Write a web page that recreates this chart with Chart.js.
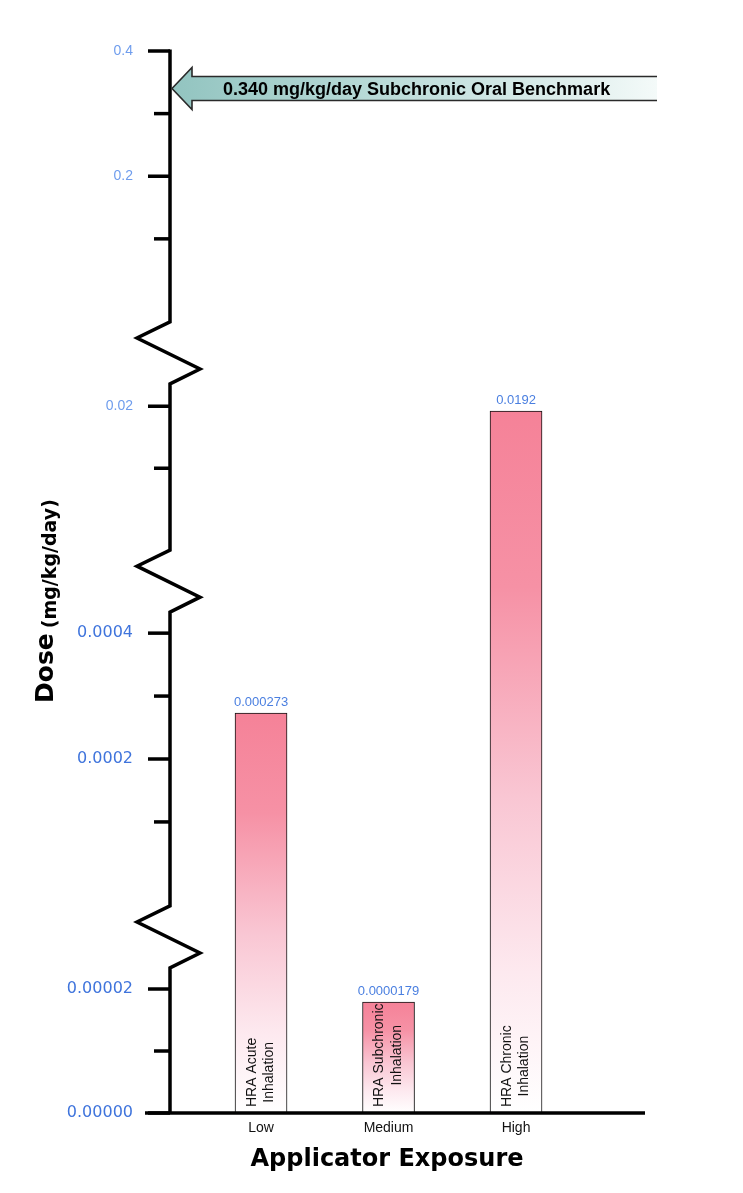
<!DOCTYPE html>
<html lang="en">
<head>
<meta charset="UTF-8">
<title>Applicator Exposure</title>
<style>
    html, body { margin: 0; padding: 0; background: #fff; }
    canvas { display: block; }
</style>
</head>
<body>
<canvas id="myChart" width="743" height="1193"></canvas>

<script src="https://cdn.jsdelivr.net/npm/chart.js"></script>
<script>
    var categories = ['Low', 'Medium', 'High'];
    var barNames = [['HRA Acute', 'Inhalation'], ['HRA Subchronic', 'Inhalation'], ['HRA Chronic', 'Inhalation']];
    var doses = [0.000273, 0.0000179, 0.0192];
    var doseLabels = ['0.000273', '0.0000179', '0.0192'];
    var tickValues = [0, 0.00001, 0.00002, 0.0001, 0.0002, 0.0003, 0.0004, 0.01, 0.02, 0.1, 0.2, 0.3, 0.4];
    var tickLabels = ['0.00000', '', '0.00002', '', '0.0002', '', '0.0004', '', '0.02', '', '0.2', '', '0.4'];
    var benchmark = 0.34;
    var benchmarkText = '0.340 mg/kg/day Subchronic Oral Benchmark';

    // broken axis: each piece puts a value range on a stretch of the axis (1 unit = one minor tick)
    var pieces = [
        {from: 0, to: 0.00002, start: 0, end: 2},
        {from: 0.0002, to: 0.0004, start: 5.71, end: 7.74},
        {from: 0.01, to: 0.02, start: 10.4, end: 11.4},
        {from: 0.2, to: 0.4, start: 15.11, end: 17.13}
    ];
    var breaks = [2.34, 8.08, 11.76]; // bottom of each zigzag, in axis units

    function pos(v) {
        for (var i = 0; i < pieces.length; i++) {
            var p = pieces[i];
            if (v <= p.to || i == pieces.length - 1) {
                return p.start + (v - p.from) / (p.to - p.from) * (p.end - p.start);
            }
        }
    }

    function barFill(c) {
        var chart = c.chart;
        if (!chart.chartArea || c.type !== 'data') return '#f5899c';
        var y = chart.scales.y;
        var top = y.getPixelForValue(c.raw.y);
        var bottom = y.getPixelForValue(0);
        var g = chart.ctx.createLinearGradient(0, top, 0, bottom);
        g.addColorStop(0, 'rgb(245,130,152)');
        g.addColorStop(0.25, 'rgb(246,145,165)');
        g.addColorStop(0.55, 'rgb(249,198,211)');
        g.addColorStop(0.8, 'rgb(253,233,239)');
        g.addColorStop(1, 'rgb(255,255,255)');
        return g;
    }

    var decor = {
        id: 'decor',
        afterDatasetsDraw: function(chart) {
            var ctx = chart.ctx;
            var y = chart.scales.y;
            var ax = chart.chartArea.left;
            var bars = chart.getDatasetMeta(0).data;

            ctx.save();

            /* ------- text inside the bars and values above ------- */
            bars.forEach(function(bar, i) {
                ctx.save();
                ctx.translate(bar.x, bar.base);
                ctx.rotate(-Math.PI / 2);
                ctx.fillStyle = '#111';
                ctx.font = '14px "Liberation Sans", Arial, sans-serif';
                ctx.textAlign = 'center';
                ctx.textBaseline = 'middle';
                var w = Math.max.apply(null, barNames[i].map(function(t) { return ctx.measureText(t).width; }));
                ctx.fillText(barNames[i][0], 6 + w / 2, -9);
                ctx.fillText(barNames[i][1], 6 + w / 2, 8.5);
                ctx.restore();

                ctx.fillStyle = '#4a7fe0';
                ctx.font = '13px "Liberation Sans", Arial, sans-serif';
                ctx.textAlign = 'center';
                ctx.textBaseline = 'alphabetic';
                ctx.fillText(doseLabels[i], bar.x, bar.y - 7);
            });

            /* ------- axis line with zigzag breaks ------- */
            ctx.strokeStyle = '#000';
            ctx.lineWidth = 3.5;
            ctx.lineJoin = 'miter';
            ctx.beginPath();
            ctx.moveTo(ax, y.getPixelForValue(y.max) - 1.5);
            breaks.slice().sort(function(a, b) { return b - a; }).forEach(function(b) {
                var yt = y.getPixelForValue(b + 1);
                var yb = y.getPixelForValue(b);
                ctx.lineTo(ax, yt);
                ctx.lineTo(ax - 33, yt + (yb - yt) * 0.26);
                ctx.lineTo(ax + 30, yt + (yb - yt) * 0.76);
                ctx.lineTo(ax, yb);
            });
            ctx.lineTo(ax, y.getPixelForValue(0));
            ctx.stroke();

            // tick marks
            tickValues.forEach(function(v, i) {
                var py = y.getPixelForValue(pos(v));
                ctx.beginPath();
                ctx.moveTo(ax - (tickLabels[i] ? 22 : 16), py);
                ctx.lineTo(ax, py);
                ctx.stroke();
            });

            // baseline
            var by = y.getPixelForValue(0);
            ctx.beginPath();
            ctx.moveTo(145, by);
            ctx.lineTo(645, by);
            ctx.stroke();

            /* ------- benchmark arrow ------- */
            var ty = y.getPixelForValue(pos(benchmark));
            var tip = ax + 2, head = tip + 20, end = 657;
            var grad = ctx.createLinearGradient(tip, 0, end, 0);
            grad.addColorStop(0, '#92c4c0');
            grad.addColorStop(0.45, '#bcdcd9');
            grad.addColorStop(0.8, '#dcedeb');
            grad.addColorStop(1, '#f4faf9');
            ctx.beginPath();
            ctx.moveTo(tip, ty);
            ctx.lineTo(head, ty - 21);
            ctx.lineTo(head, ty - 12);
            ctx.lineTo(end, ty - 12);
            ctx.lineTo(end, ty + 12);
            ctx.lineTo(head, ty + 12);
            ctx.lineTo(head, ty + 21);
            ctx.closePath();
            ctx.fillStyle = grad;
            ctx.fill();
            ctx.beginPath();
            ctx.moveTo(end, ty - 12);
            ctx.lineTo(head, ty - 12);
            ctx.lineTo(head, ty - 21);
            ctx.lineTo(tip, ty);
            ctx.lineTo(head, ty + 21);
            ctx.lineTo(head, ty + 12);
            ctx.lineTo(end, ty + 12);
            ctx.strokeStyle = '#2a2a2a';
            ctx.lineWidth = 1.6;
            ctx.stroke();
            ctx.fillStyle = '#000';
            ctx.font = 'bold 18px "Liberation Sans", Arial, sans-serif';
            ctx.textAlign = 'left';
            ctx.textBaseline = 'middle';
            ctx.fillText(benchmarkText, 223, ty + 1);

            /* ------- axis titles ------- */
            ctx.save();
            ctx.rotate(-Math.PI / 2);
            ctx.textAlign = 'left';
            ctx.textBaseline = 'alphabetic';
            ctx.font = 'bold 25px "DejaVu Sans", sans-serif';
            ctx.fillText('Dose', -703, 53);
            var dw = ctx.measureText('Dose').width;
            ctx.font = 'bold 19px "DejaVu Sans", sans-serif';
            ctx.fillText('(mg/kg/day)', -703 + dw + 5, 56);
            ctx.restore();

            ctx.font = 'bold 24px "DejaVu Sans", sans-serif';
            ctx.textAlign = 'center';
            ctx.textBaseline = 'alphabetic';
            ctx.fillText('Applicator Exposure', 387, 1166);

            ctx.restore();
        }
    };

    var ctx = document.getElementById('myChart').getContext('2d');
    var myChart = new Chart(ctx, {
        type: 'bar',
        data: {
            datasets: [{
                data: doses.map(function(d, i) { return {x: i + 1, y: pos(d)}; }),
                backgroundColor: barFill,
                borderColor: '#111',
                borderWidth: 1,
                barThickness: 52
            }]
        },
        options: {
            responsive: false,
            animation: false,
            devicePixelRatio: 1,
            layout: {padding: {top: 51, right: 43, left: 0, bottom: 0}},
            plugins: {legend: {display: false}, tooltip: {enabled: false}},
            scales: {
                x: {
                    type: 'linear',
                    offset: false,
                    min: 0.286,
                    max: 4.443,
                    grid: {display: false, drawTicks: false},
                    border: {display: false},
                    afterBuildTicks: function(scale) {
                        scale.ticks = categories.map(function(c, i) { return {value: i + 1}; });
                    },
                    afterFit: function(scale) { scale.height = 80; },
                    ticks: {
                        autoSkip: false,
                        maxRotation: 0,
                        padding: 7,
                        color: '#111',
                        font: {family: '"Liberation Sans", Arial, sans-serif', size: 14},
                        callback: function(v) { return categories[v - 1] || ''; }
                    }
                },
                y: {
                    type: 'linear',
                    min: 0,
                    max: pos(0.4),
                    grid: {display: false, drawTicks: false},
                    border: {display: false},
                    afterBuildTicks: function(scale) {
                        scale.ticks = tickValues.map(function(v) { return {value: pos(v)}; });
                    },
                    afterFit: function(scale) { scale.width = 170; },
                    ticks: {
                        autoSkip: false,
                        padding: 37,
                        color: function(c) { return c.index >= 8 ? '#6f9ded' : '#3f74dc'; },
                        font: function(c) {
                            return c.index >= 8
                                ? {family: '"Liberation Sans", Arial, sans-serif', size: 14}
                                : {family: '"DejaVu Sans", sans-serif', size: 16};
                        },
                        callback: function(v, i) { return tickLabels[i]; }
                    }
                }
            }
        },
        plugins: [decor]
    });
</script>
</body>
</html>
